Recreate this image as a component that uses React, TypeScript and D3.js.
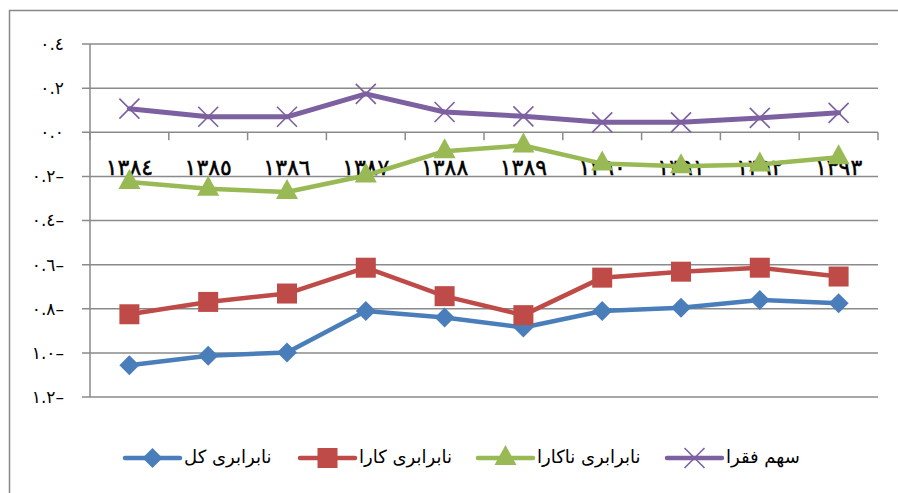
import React, { useEffect, useRef } from 'react';
import * as d3 from 'd3';

const YEARS = ['١٣٨٤', '١٣٨٥', '١٣٨٦', '١٣٨٧', '١٣٨٨', '١٣٨٩', '١٣٩٠', '١٣٩١', '١٣٩٢', '١٣٩٣'];
const Y_TICKS = [0.4, 0.2, 0, -0.2, -0.4, -0.6, -0.8, -1.0, -1.2];
const Y_TICK_LABELS = ['٠.٤', '٠.٢', '٠.٠', '٠.٢–', '٠.٤–', '٠.٦–', '٠.٨–', '١.٠–', '١.٢–'];

const TOTAL = [-1.056, -1.013, -0.998, -0.81, -0.84, -0.885, -0.81, -0.795, -0.76, -0.775];
const EFFICIENT = [-0.825, -0.769, -0.731, -0.614, -0.743, -0.829, -0.659, -0.632, -0.614, -0.654];
const INEFFICIENT = [-0.226, -0.256, -0.271, -0.196, -0.086, -0.06, -0.142, -0.154, -0.146, -0.113];
const POOR_SHARE = [0.107, 0.07, 0.07, 0.174, 0.092, 0.072, 0.045, 0.045, 0.065, 0.088];

const SERIES = [
  { name: 'نابرابری کل', values: TOTAL, color: '#4A7EBB', marker: 'diamond' },
  { name: 'نابرابری کارا', values: EFFICIENT, color: '#BE4B48', marker: 'square' },
  { name: 'نابرابری ناکارا', values: INEFFICIENT, color: '#98B954', marker: 'triangle' },
  { name: 'سهم فقرا', values: POOR_SHARE, color: '#7D60A0', marker: 'x' }
];

const FONT = '"DejaVu Sans", sans-serif';

const App: React.FC = () => {
  const svgRef = useRef<SVGSVGElement>(null);

  useEffect(() => {
    if (!svgRef.current) return;
    const svg = d3.select(svgRef.current);
    svg.selectAll('*').remove();

    const width = 898;
    const height = 493;
    const plot = { left: 90, right: 878, top: 44, bottom: 397 };

    svg.attr('width', width).attr('height', height);

    // Outer frame
    svg.append('rect')
      .attr('x', 9.5).attr('y', 10.5)
      .attr('width', 900).attr('height', 500)
      .attr('fill', '#fff')
      .attr('stroke', '#888').attr('stroke-width', 1.5);

    const x = d3.scaleBand<string>()
      .domain(YEARS)
      .range([plot.left, plot.right]);

    const y = d3.scaleLinear()
      .domain([-1.2, 0.4])
      .range([plot.bottom, plot.top]);

    // Horizontal gridlines + tick labels
    Y_TICKS.forEach((t, i) => {
      svg.append('line')
        .attr('x1', plot.left - 8).attr('x2', plot.right)
        .attr('y1', y(t)).attr('y2', y(t))
        .attr('stroke', '#8a8a8a').attr('stroke-width', 1.5);
      svg.append('text')
        .attr('x', 64).attr('y', y(t))
        .attr('dy', '0.35em')
        .attr('text-anchor', 'end')
        .attr('direction', 'ltr')
        .style('font-family', FONT)
        .style('font-size', '17px')
        .style('fill', '#000')
        .text(Y_TICK_LABELS[i]);
    });

    // Value axis line
    svg.append('line')
      .attr('x1', plot.left).attr('x2', plot.left)
      .attr('y1', plot.top).attr('y2', plot.bottom)
      .attr('stroke', '#8a8a8a').attr('stroke-width', 1.5);

    // Category axis crossing at zero
    const boundaries = YEARS.map(d => x(d)!).concat([plot.right]);
    boundaries.forEach(b => {
      svg.append('line')
        .attr('x1', b).attr('x2', b)
        .attr('y1', y(0)).attr('y2', y(0) + 8)
        .attr('stroke', '#8a8a8a').attr('stroke-width', 1.5);
    });

    // Category labels
    svg.selectAll('.x-label')
      .data(YEARS)
      .enter()
      .append('text')
      .attr('class', 'x-label')
      .attr('x', d => x(d)! + x.bandwidth() / 2)
      .attr('y', y(-0.2) - 1)
      .attr('text-anchor', 'middle')
      .attr('direction', 'ltr')
      .style('font-family', FONT)
      .style('font-size', '22px')
      .style('fill', '#000')
      .style('stroke', '#000')
      .style('stroke-width', 0.5)
      .text(d => d);

    const cx = (i: number) => x(YEARS[i])! + x.bandwidth() / 2;

    const drawMarker = (g: any, kind: string, color: string, px: number, py: number) => {
      if (kind === 'diamond') {
        g.append('path')
          .attr('d', `M${px},${py - 10}L${px + 10},${py}L${px},${py + 10}L${px - 10},${py}Z`)
          .attr('fill', color);
      } else if (kind === 'square') {
        g.append('rect')
          .attr('x', px - 10).attr('y', py - 10)
          .attr('width', 20).attr('height', 20)
          .attr('fill', color);
      } else if (kind === 'triangle') {
        g.append('path')
          .attr('d', `M${px},${py - 13}L${px + 11},${py + 7}L${px - 11},${py + 7}Z`)
          .attr('fill', color);
      } else {
        g.append('path')
          .attr('d', `M${px - 10},${py - 10}L${px + 10},${py + 10}M${px + 10},${py - 10}L${px - 10},${py + 10}`)
          .attr('stroke', color).attr('stroke-width', 1.6).attr('fill', 'none');
      }
    };

    const line = d3.line<number>()
      .x((_, i) => cx(i))
      .y(d => y(d));

    SERIES.forEach(s => {
      const g = svg.append('g');
      g.append('path')
        .datum(s.values)
        .attr('d', line)
        .attr('fill', 'none')
        .attr('stroke', s.color)
        .attr('stroke-width', s.marker === 'x' ? 5 : 4.5)
        .attr('stroke-linejoin', 'round')
        .attr('stroke-linecap', 'round');
      s.values.forEach((v, i) => drawMarker(g, s.marker, s.color, cx(i), y(v)));
    });

    // Legend
    const legendY = 458;
    const legendX = [125, 300, 478, 667];
    SERIES.forEach((s, i) => {
      const g = svg.append('g');
      const lx = legendX[i];
      g.append('line')
        .attr('x1', lx).attr('x2', lx + 55)
        .attr('y1', legendY).attr('y2', legendY)
        .attr('stroke', s.color).attr('stroke-width', 4.5)
        .attr('stroke-linecap', 'round');
      drawMarker(g, s.marker, s.color, lx + 27.5, legendY);
      g.append('text')
        .attr('x', lx + 59).attr('y', legendY)
        .attr('dy', '0.3em')
        .attr('text-anchor', 'start')
        .style('font-family', FONT)
        .style('font-size', '18px')
        .style('fill', '#000')
        .text(s.name);
    });
  }, []);

  return (
    <svg ref={svgRef} style={{ position: 'absolute', left: 0, top: 0, display: 'block' }} />
  );
};

export default App;
